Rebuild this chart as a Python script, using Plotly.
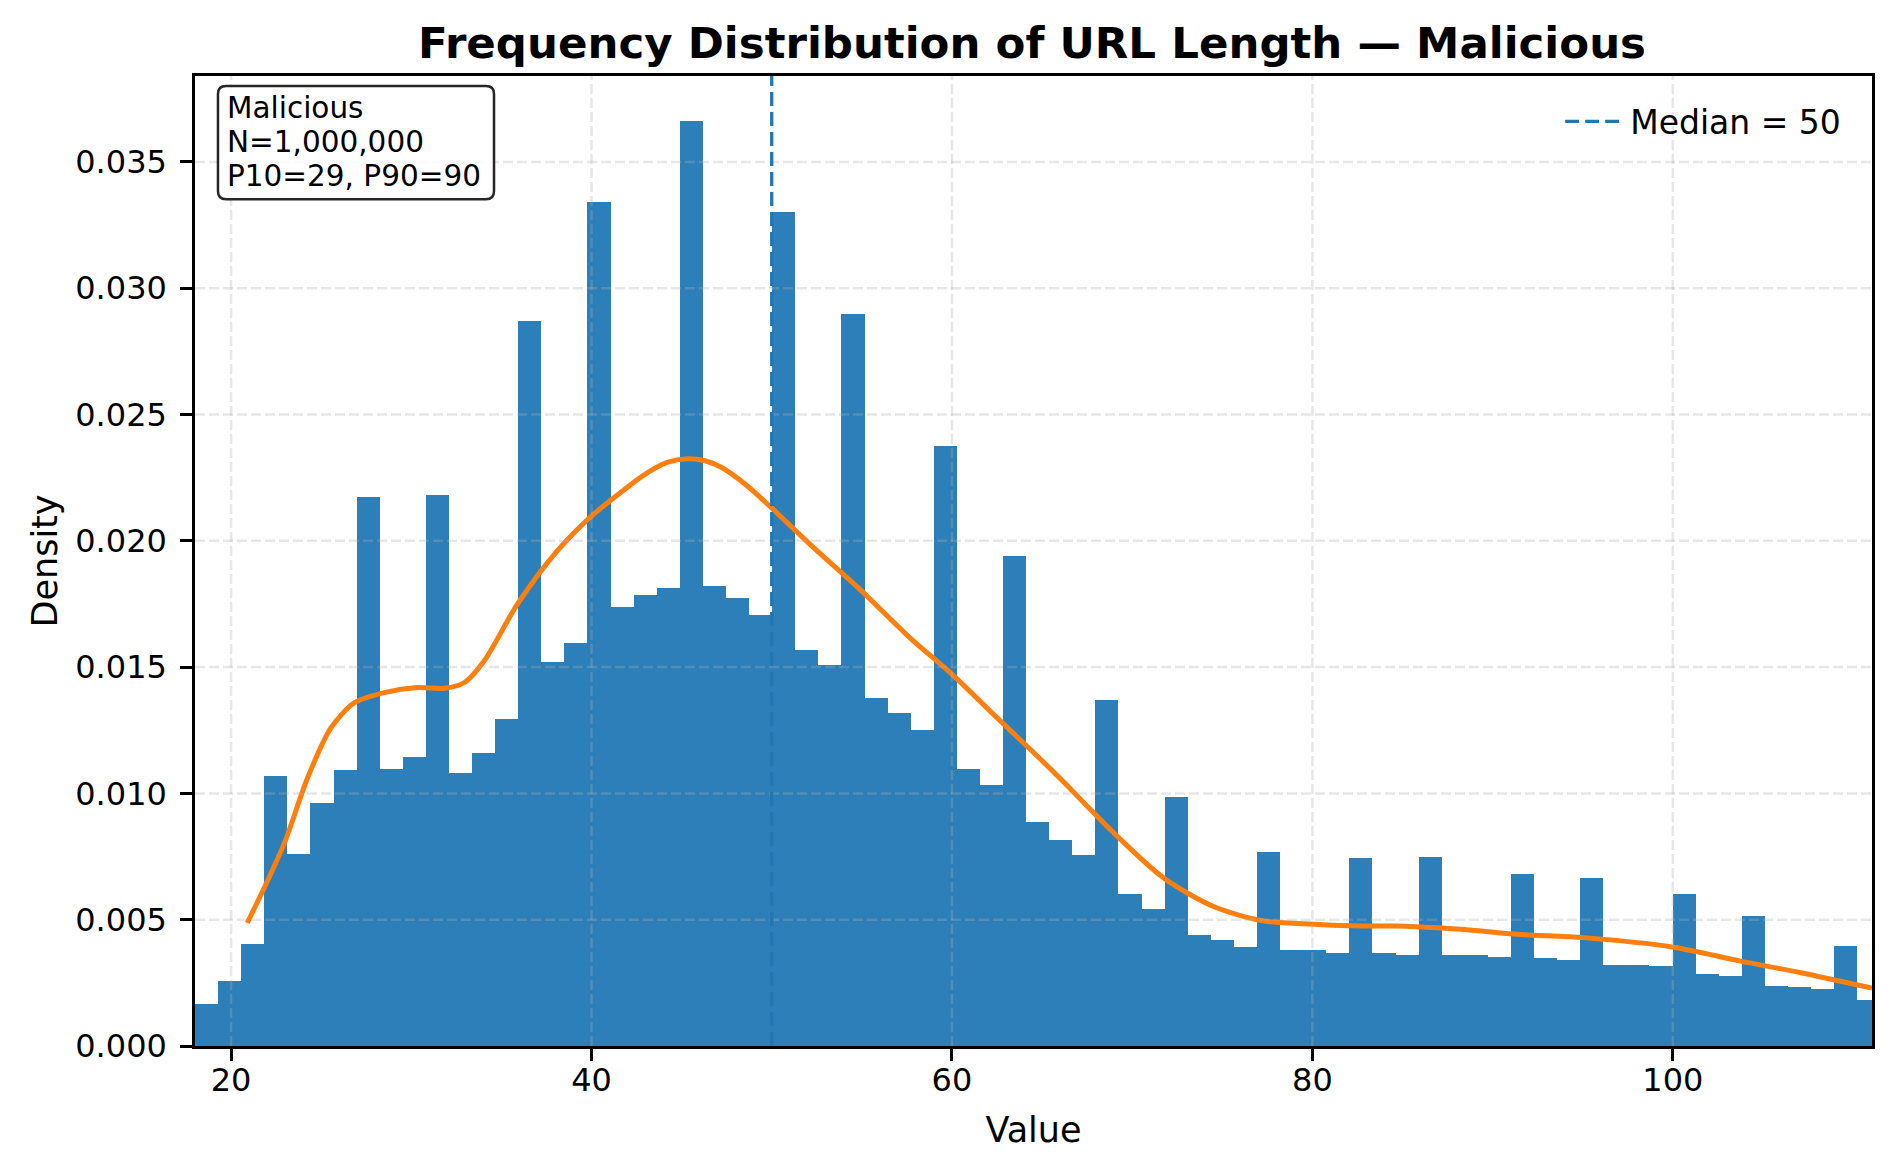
import numpy as np
import plotly.graph_objs as go

# histogram bins (density)
bin_start = 18.0
bin_width = 1.281
density = [0.00166, 0.00257, 0.00404, 0.01070, 0.00761, 0.00963, 0.01093, 0.02174,
           0.01098, 0.01143, 0.02181, 0.01082, 0.01158, 0.01295, 0.02870, 0.01520,
           0.01594, 0.03341, 0.01738, 0.01786, 0.01814, 0.03660, 0.01822, 0.01774,
           0.01705, 0.03303, 0.01566, 0.01510, 0.02898, 0.01376, 0.01318, 0.01250,
           0.02374, 0.01095, 0.01034, 0.01941, 0.00887, 0.00814, 0.00758, 0.01369,
           0.00601, 0.00543, 0.00984, 0.00439, 0.00419, 0.00391, 0.00768, 0.00379,
           0.00379, 0.00368, 0.00746, 0.00368, 0.00361, 0.00748, 0.00361, 0.00361,
           0.00353, 0.00682, 0.00348, 0.00341, 0.00667, 0.00320, 0.00320, 0.00318,
           0.00601, 0.00285, 0.00277, 0.00515, 0.00239, 0.00232, 0.00224, 0.00396,
           0.00181]

# kde curve
kde_x = [20.9, 22.0, 23.0, 24.25, 25.55, 26.85, 28.5, 30.35, 31.85, 32.95, 34.05,
         35.9, 38.1, 39.95, 41.6, 42.9, 44.2, 45.3, 46.3, 47.2, 48.6, 49.95, 52.2,
         54.95, 57.7, 59.95, 62.35, 64.95, 66.2, 69.0, 71.75, 74.55, 77.3, 80.1,
         82.85, 84.7, 88.2, 91.4, 95.05, 100.05, 103.75, 107.1, 111.05]
kde_y = [0.00487, 0.0065, 0.0081, 0.01062, 0.0126, 0.01359, 0.01399, 0.01419,
         0.01416, 0.01439, 0.01525, 0.0175, 0.0196, 0.02095, 0.0219, 0.0226, 0.0231,
         0.02325, 0.02317, 0.02291, 0.0222, 0.02133, 0.01981, 0.01804, 0.01614,
         0.01475, 0.0131, 0.01133, 0.01045, 0.00842, 0.00665, 0.00551, 0.00495,
         0.00482, 0.00475, 0.00475, 0.00462, 0.00442, 0.00429, 0.00391, 0.00336,
         0.0029, 0.00229]

median_value = 50
x_ticks = [20, 40, 60, 80, 100]
y_ticks = [0.0, 0.005, 0.010, 0.015, 0.020, 0.025, 0.030, 0.035]
info_lines = ["Malicious", "N=1,000,000", "P10=29, P90=90"]

centers = bin_start + bin_width * (np.arange(len(density)) + 0.5)
font = "DejaVu Sans"

fig = go.Figure()

fig.add_trace(go.Bar(x=centers, y=density, width=bin_width, showlegend=False,
                     marker=dict(color="rgba(31,119,180,0.94)", line=dict(width=0))))

fig.add_trace(go.Scatter(x=kde_x, y=kde_y, mode="lines", showlegend=False,
                         line=dict(color="#ff7f0e", width=5, shape="spline", smoothing=0.8)))

shapes = []
# grid lines sit above the bars like in matplotlib
for t in x_ticks:
    shapes.append(dict(type="line", xref="x", yref="paper", x0=t, x1=t, y0=0, y1=1,
                       layer="above", line=dict(color="rgba(176,176,176,0.3)", width=2.5, dash="10px,4px")))
for t in y_ticks[1:]:
    shapes.append(dict(type="line", xref="paper", yref="y", x0=0, x1=1, y0=t, y1=t,
                       layer="above", line=dict(color="rgba(176,176,176,0.3)", width=2.5, dash="10px,4px")))

shapes.append(dict(type="line", xref="x", yref="paper", x0=median_value, x1=median_value, y0=0, y1=1,
                   layer="above", showlegend=True, name=f"Median = {median_value}",
                   line=dict(color="#1f77b4", width=3.3, dash="14px,6px")))

# rounded text box, paper coords
x0, x1, y0, y1 = 0.0137, 0.1783, 0.8730, 0.9897
rx, ry = 0.0048, 0.0082
path = (f"M {x0+rx},{y1} L {x1-rx},{y1} Q {x1},{y1} {x1},{y1-ry} L {x1},{y0+ry} "
        f"Q {x1},{y0} {x1-rx},{y0} L {x0+rx},{y0} Q {x0},{y0} {x0},{y0+ry} "
        f"L {x0},{y1-ry} Q {x0},{y1} {x0+rx},{y1} Z")
shapes.append(dict(type="path", xref="paper", yref="paper", path=path, layer="above",
                   fillcolor="rgba(255,255,255,0.85)", line=dict(color="#262626", width=2.5)))

# one annotation per line to keep the tighter matplotlib line spacing
line_y = [0.9670, 0.9323, 0.8972]
annotations = [dict(text=txt, xref="paper", yref="paper", x=0.0178, y=yy,
                    xanchor="left", yanchor="middle", align="left", showarrow=False,
                    font=dict(family=font, size=29.5, color="black"))
               for txt, yy in zip(info_lines, line_y)]

# page body has an 8px margin, so the figure is 16px smaller than the window
fig.update_layout(
    width=1879, height=1159,
    paper_bgcolor="white", plot_bgcolor="white",
    font=dict(family=font, color="black", size=32),
    margin=dict(l=187, r=15, t=68, b=121, autoexpand=False),
    bargap=0,
    shapes=shapes,
    annotations=annotations,
    title=dict(text="<b>Frequency Distribution of URL Length — Malicious</b>",
               x=1024 / 1879, xanchor="center", xref="container", y=1 - 35 / 1159, yanchor="middle",
               font=dict(family=font, size=43.5, color="black")),
    legend=dict(x=0.9846, xanchor="right", y=0.982, yanchor="top", bgcolor="rgba(0,0,0,0)",
                itemwidth=60, font=dict(family=font, size=33)),
)

fig.update_xaxes(range=[bin_start, 111.05], tickvals=x_ticks, showgrid=False, zeroline=False,
                 showline=True, mirror=True, linecolor="black", linewidth=2.5,
                 ticks="outside", ticklen=12, tickwidth=2.5, tickcolor="black",
                 ticklabelstandoff=-8, tickfont=dict(size=32),
                 title=dict(text="Value", font=dict(size=35), standoff=20))
fig.update_yaxes(range=[0, 0.0384], tickvals=y_ticks, tickformat=".3f", showgrid=False, zeroline=False,
                 showline=True, mirror=True, linecolor="black", linewidth=2.5,
                 ticks="outside", ticklen=12, tickwidth=2.5, tickcolor="black",
                 ticklabelstandoff=7, tickfont=dict(size=32),
                 title=dict(text="Density", font=dict(size=35), standoff=7))

fig.write_html("out.html")
